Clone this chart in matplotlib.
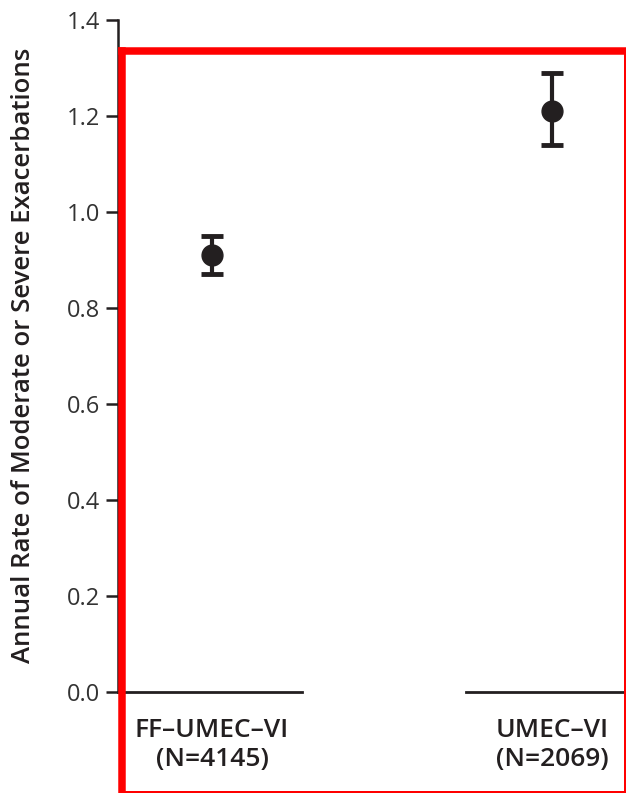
import matplotlib
matplotlib.use("Agg")
import matplotlib.pyplot as plt
from matplotlib.lines import Line2D

categories = ["FF–UMEC–VI\n(N=4145)", "UMEC–VI\n(N=2069)"]
rates = [0.91, 1.21]
lower = [0.87, 1.14]
upper = [0.95, 1.29]
yticks = [0.0, 0.2, 0.4, 0.6, 0.8, 1.0, 1.2, 1.4]

W, H, DPI = 626, 793, 100
fig = plt.figure(figsize=(W / DPI, H / DPI), dpi=DPI)
plt.rcParams['font.family'] = ['Open Sans', 'DejaVu Sans']

ax_l, ax_r, ax_b, ax_t = 118, 626, 692, 20
ax = fig.add_axes([ax_l / W, 1 - ax_b / H, (ax_r - ax_l) / W, (ax_b - ax_t) / H])

dark = "#231f20"
x = list(range(len(categories)))
err_lo = [r - l for r, l in zip(rates, lower)]
err_hi = [u - r for r, u in zip(rates, upper)]
ax.errorbar(x, rates, yerr=[err_lo, err_hi], fmt='o', color=dark, ms=15,
            elinewidth=3, capsize=8, capthick=3.5, zorder=5)

ax.set_xlim(-0.2765, 1.2176)
ax.set_ylim(0, 1.4)
ax.set_yticks(yticks)
ax.set_yticklabels([f"{v:.1f}" for v in yticks], fontsize=17, color="#333333")
ax.set_xticks(x)
ax.set_xticklabels(categories, fontsize=19, fontweight='semibold', color=dark,
                   linespacing=1.2)
ax.tick_params(axis='x', length=0, pad=19)
ax.tick_params(axis='y', length=9, width=1.8, color=dark, pad=4)

for s in ['top', 'right', 'bottom']:
    ax.spines[s].set_visible(False)
ax.spines['left'].set_color(dark)
ax.spines['left'].set_linewidth(1.8)

# broken baseline segments
ax.plot([-0.2765, 0.265], [0, 0], color=dark, lw=2, clip_on=False)
ax.plot([0.747, 1.25], [0, 0], color=dark, lw=2, clip_on=False)

ax.set_ylabel("Annual Rate of Moderate or Severe Exacerbations", fontsize=18.5,
              fontweight='semibold', color=dark)
ax.yaxis.set_label_coords(36 / W, 1 - 355 / H, transform=fig.transFigure)

# red frame (figure pixel coordinates)
red = "#ff0000"
def px_line(xs, ys, lw):
    fig.add_artist(Line2D([v / W for v in xs], [1 - v / H for v in ys],
                          transform=fig.transFigure, color=red,
                          linewidth=lw * 72 / DPI, solid_capstyle='projecting',
                          zorder=10))

px_line([121.5, 121.5], [50.5, 793], 7.5)   # left
px_line([121.5, 626], [50.5, 50.5], 7.5)    # top
px_line([625, 625], [50.5, 793], 3)         # right
px_line([121.5, 626], [791.5, 791.5], 3)    # bottom

fig.savefig("out.png", dpi=DPI)
